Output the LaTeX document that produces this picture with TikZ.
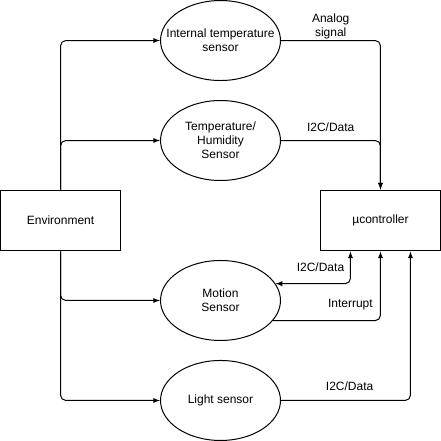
\documentclass[tikz,border=0pt]{standalone}
\usepackage{fontspec}
\setmainfont{Liberation Sans}
\usetikzlibrary{positioning,shapes.geometric,arrows}
\tikzset{
 b/.style
  = {rectangle, draw, minimum width=90pt, minimum height=45.75pt, inner sep=0pt, line width=0.75pt},
 c/.style
  = {ellipse, draw, minimum width=90pt, minimum height=60pt, inner xsep=-20pt, inner ysep=0pt,
     align=center, line width=0.75pt},
 l/.style
  = {draw, -latex, line width=0.75pt, rounded corners=4pt},
 lr/.style
  = {draw, latex-latex, line width=0.75pt, rounded corners=4pt},
 mylabel/.style
  = {align=center, inner sep=0pt}
}
\begin{document}
\begin{tikzpicture}[auto, font=\fontsize{9}{10.5}\selectfont, node distance=60pt and 120pt, on grid]
    \useasboundingbox (-45.4pt,-165.4pt) rectangle (285.35pt,165.4pt);
    \node [b] (environment) {Environment};
    \node [b, right = 240pt of environment] (controller) {µcontroller};
    \node [c, above right = of environment] (temphum) {Temperature/\\ Humidity\\ Sensor};
    \node [c, above = 75pt of temphum] (internal) {Internal temperature\\ sensor};
    \node [c, below right = of environment] (motion) {Motion\\ Sensor};
    \node [c, below = 75pt of motion] (light) {Light sensor};

    \path [l] (environment.north) |- (internal.west);
    \path [l] (environment.north) |- (temphum.west);
    \path [l] (environment.south) |- (motion.west);
    \path [l] (environment.south) |- (light.west);
    \path [l] (internal.east) -| (controller.north) node[pos=0.25, above=0.5pt, mylabel]{Analog\\ signal};
    \path [l] (temphum.east) -| (controller.north) node[pos=0.25, above=6.5pt, mylabel]{I2C/Data};
    \path [lr] (motion.17) -| ([xshift=-22.5pt]controller.south) node[pos=0.3, above=9pt, mylabel]{I2C/Data};
    \path [l] (motion.-21) -| (controller.south) node[pos=0.36, above=7.5pt, mylabel]{Interrupt};
    \path [l] (light.east) -| ([xshift=22.5pt]controller.south) node[pos=0.265, above=6.75pt, mylabel]{I2C/Data};

\end{tikzpicture}
\end{document}
